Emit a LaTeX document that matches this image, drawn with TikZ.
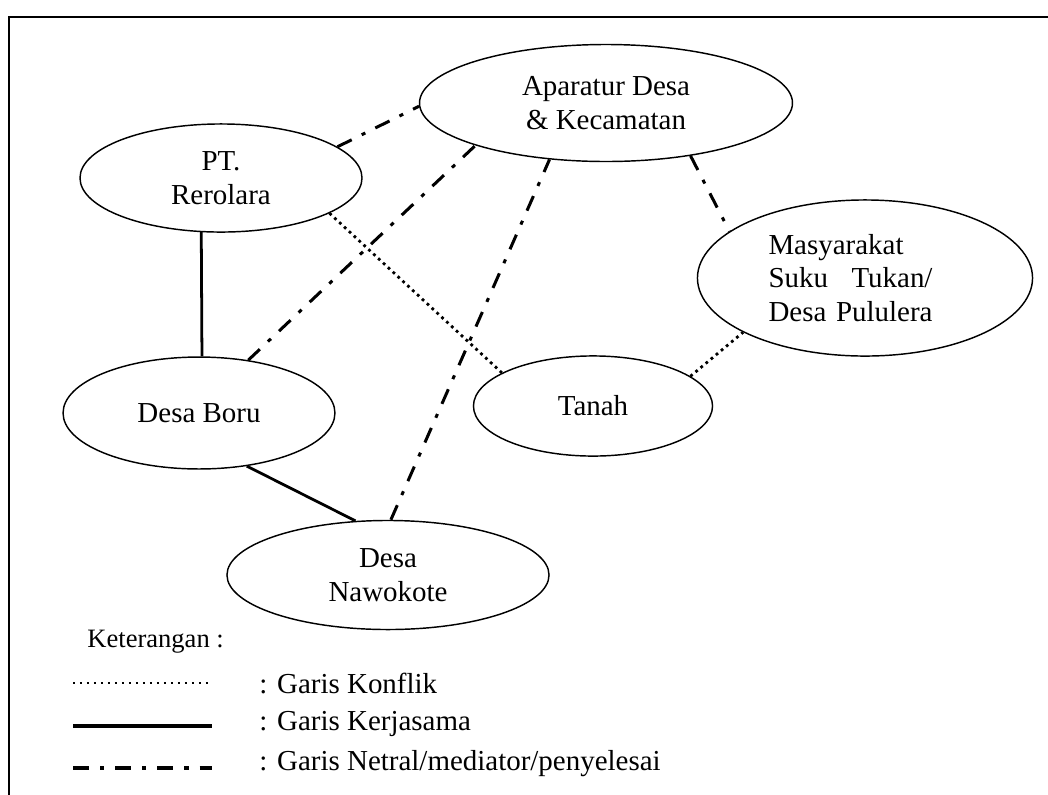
\documentclass[tikz,border=0pt]{standalone}
\usepackage{fontspec}
\setmainfont{Liberation Serif}
\usepackage{calc}
\usetikzlibrary{shapes.geometric}
\newcommand{\labelfont}{\fontsize{12}{14}\selectfont}
\tikzset{
    actor/.style={draw, ellipse, line width=0.6pt, inner sep=0pt, align=center, font=\labelfont},
    konflik/.style={line width=1.15pt, dash pattern=on 1.15pt off 1.6pt},
    kerjasama/.style={line width=1.15pt},
    netral/.style={line width=1.25pt, dash pattern=on 6.6pt off 4.6pt on 1.7pt off 4.6pt},
    legendline/.style={line width=1.65pt},
    legendtext/.style={anchor=west, inner sep=0pt, font=\labelfont}
}

\begin{document}
\begin{tikzpicture}[x=0.4145pt, y=-0.4145pt]
    \useasboundingbox (0,0) rectangle (1048,794);
    \draw[line width=0.9pt] (1060,17) -- (9,17) -- (9,806);

    % actors
    \node[actor, minimum width=154.6pt, minimum height=48.5pt] (aparat) at (606,103) {Aparatur Desa\\ \& Kecamatan};
    \node[actor, minimum width=116.9pt, minimum height=44.8pt] (pt) at (221,178) {PT.\\ Rerolara};
    \node[actor, minimum width=112.7pt, minimum height=46.4pt] (boru) at (199,413) {Desa Boru};
    \node[actor, minimum width=99.1pt, minimum height=41.5pt] (tanah) at (593,406) {Tanah};
    \node[actor, minimum width=138.9pt, minimum height=64.7pt, text width=80pt, align=left] (masy) at (865,278)
        {Masyarakat\\ \makebox[\widthof{Desa Pululera}][l]{Suku\hfill Tukan/}\\ Desa Pululera};
    \node[actor, minimum width=133.5pt, minimum height=45.2pt] (nawo) at (388,575) {Desa\\ Nawokote};

    % relations
    \draw[netral] (pt.15) -- (aparat.181.2);
    \draw[netral] (boru.47) -- (aparat.198.8);
    \draw[netral] (nawo.87) -- (aparat.225);
    \draw[netral] (aparat.328) -- (masy.161);
    \draw[konflik] (pt.342.5) -- (tanah.160.5);
    \draw[konflik] (tanah.17.3) -- (masy.204.2);
    \draw[kerjasama] (pt.250.6) -- (boru.87);
    \draw[kerjasama] (boru.312.9) -- (nawo.121.4);

    % keterangan
    \node[anchor=west, inner sep=0pt, font=\fontsize{11}{13}\selectfont] (ket) at (87,642) {Keterangan :};
    \coordinate (konflikL) at (73,683);
    \coordinate (konflikR) at (212,683);
    \coordinate (kerjaL) at (73,726);
    \coordinate (kerjaR) at (212,726);
    \coordinate (netralL) at (73,768);
    \coordinate (netralR) at (212,768);
    \draw[konflik, line width=0.9pt, dash pattern=on 0.9pt off 2pt] (konflikL) -- (konflikR);
    \draw[kerjasama, legendline] (kerjaL) -- (kerjaR);
    \draw[netral, legendline] (netralL) -- (netralR);
    \node[legendtext] (konflikT) at (259,683) {: Garis Konflik};
    \node[legendtext] (kerjaT) at (259,724) {: Garis Kerjasama};
    \node[legendtext] (netralT) at (259,764) {: Garis Netral/mediator/penyelesai};
\end{tikzpicture}
\end{document}
